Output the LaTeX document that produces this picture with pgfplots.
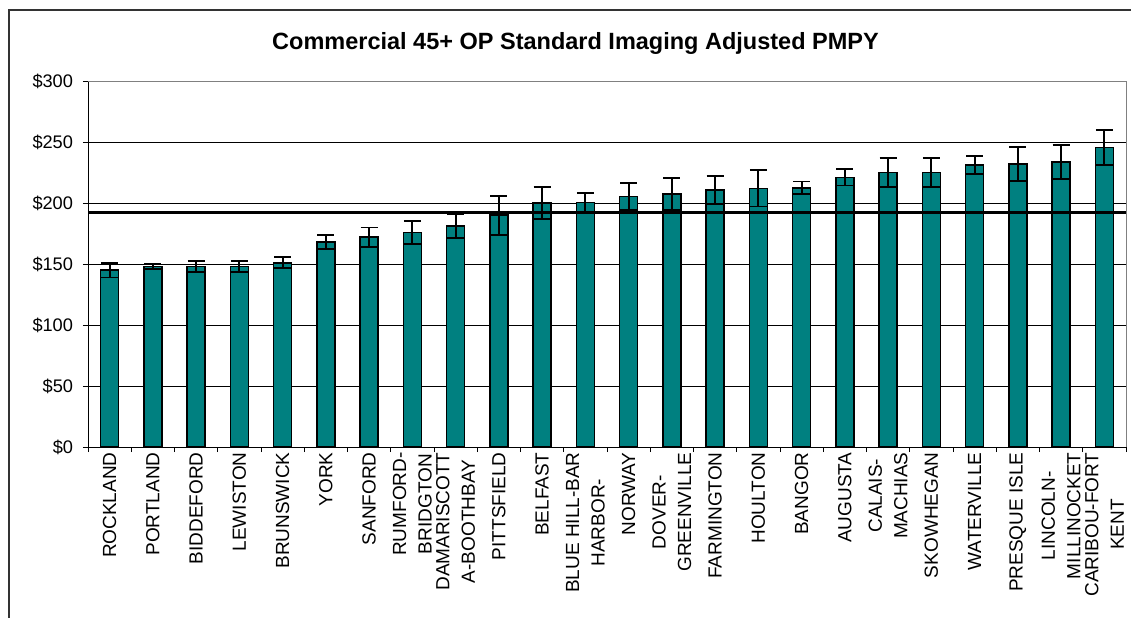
\documentclass[border=0pt]{standalone}
\usepackage{fontspec}
\setmainfont{Liberation Sans}
\usepackage{pgfplots}
\pgfplotsset{compat=1.18}
\usepackage{pgfplotstable}
\definecolor{barteal}{HTML}{008080}

\pgfplotstableread{
x y e
1 145 6
2 148 2.3
3 148 4.3
4 148 4.3
5 151 4.5
6 168 6
7 172 8
8 176 9.5
9 181 10
10 190 16
11 200 13.3
12 200.5 7.8
13 205.5 11
14 207.5 13.3
15 210.7 11.6
16 212 14.8
17 212.5 5.2
18 221 6.7
19 225 11.6
20 225 11.6
21 231 7.4
22 232 13.8
23 233.5 13.8
24 245.5 14.6
}\datatable

\begin{document}
\begin{tikzpicture}
\useasboundingbox (0,0) rectangle (565.5pt,-308.5pt);
\draw[line width=0.9pt, black!80] (4.5pt,-320pt) -- (4.5pt,-5pt) -- (580pt,-5pt);
\node[font=\bfseries\fontsize{11.75pt}{14pt}\selectfont, anchor=base, inner sep=0pt] at (287.75pt,-24.65pt) {Commercial 45+ OP Standard Imaging Adjusted PMPY};
\begin{axis}[
  at={(44pt,-223.5pt)}, anchor=south west,
  width=519pt, height=183pt, scale only axis,
  xmin=0.5, xmax=24.5, ymin=0, ymax=300,
  axis lines=left, axis line style={-, line width=0.5pt, black},
  tick align=outside,
  major tick length=2.5pt,
  tick style={black, line width=0.5pt},
  xtick={0.5,1.5,...,24.5}, xticklabels={},
  extra x ticks={1,...,24},
  extra x tick labels={ROCKLAND, PORTLAND, BIDDEFORD, LEWISTON, BRUNSWICK, YORK, SANFORD, {RUMFORD-\\BRIDGTON}, {DAMARISCOTT\\A-BOOTHBAY}, PITTSFIELD, BELFAST, {BLUE HILL-BAR\\HARBOR-}, NORWAY, {DOVER-\\GREENVILLE}, FARMINGTON, HOULTON, BANGOR, AUGUSTA, {CALAIS-\\MACHIAS}, SKOWHEGAN, WATERVILLE, PRESQUE ISLE, {LINCOLN-\\MILLINOCKET}, {CARIBOU-FORT\\KENT}},
  extra x tick style={major tick length=0pt, grid=none,
    xticklabel style={rotate=90, anchor=east, align=center, inner sep=0pt,
      font=\fontsize{9.5pt}{12.75pt}\selectfont}},
  xticklabel shift=2.5pt,
  ytick={0,50,...,300},
  yticklabels={\$0,\$50,\$100,\$150,\$200,\$250,\$300},
  yticklabel style={font=\fontsize{9.1pt}{11pt}\selectfont, inner sep=0pt, anchor=east},
  yticklabel shift=4.8pt,
  ymajorgrids, major grid style={black, line width=0.5pt},
  clip=false,
]
\addplot[ybar, bar width=9pt, fill=barteal, draw=black, line width=0.75pt,
  error bars/.cd, y dir=both, y explicit,
  error mark options={rotate=90, mark size=4.25pt, line width=0.9pt, black},
  error bar style={line width=0.9pt, black}]
  table[x=x, y=y, y error=e]{\datatable};
\addplot[black, line width=1.5pt, sharp plot, mark=none, forget plot] coordinates {(0.5,192) (24.5,192)};
\draw[gray, line width=0.5pt] (rel axis cs:0,1) -- (rel axis cs:1,1) -- (rel axis cs:1,0);
\end{axis}
\end{tikzpicture}
\end{document}
